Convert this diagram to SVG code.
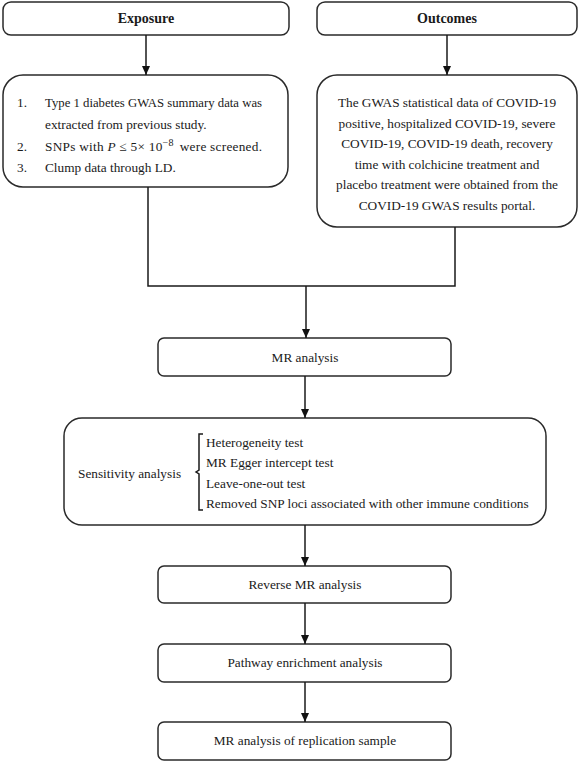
<svg xmlns="http://www.w3.org/2000/svg" width="581" height="762" viewBox="0 0 581 762">
<defs>
<marker id="ah" markerWidth="10" markerHeight="10" refX="9" refY="5" orient="auto" markerUnits="userSpaceOnUse">
<path d="M0,1 L9,5 L0,9 Z" fill="#111"/>
</marker>
<style>
.box{fill:#fff;stroke:#2a2a2a;stroke-width:1.5}
.t{font-family:"Liberation Serif","Times New Roman",serif;font-size:13.3px;fill:#1a1a1a}
.b{font-weight:bold;font-size:14px}
.c{text-anchor:middle}
.ln{fill:none;stroke:#1a1a1a;stroke-width:1.5}
</style>
</defs>
<rect width="581" height="762" fill="#fff"/>
<g id="exposure">
<rect class="box" x="3" y="2" width="286" height="33" rx="8"/>
<text class="t b c" x="146" y="23">Exposure</text>
</g>
<g id="outcomes">
<rect class="box" x="317" y="2" width="260" height="33" rx="8"/>
<text class="t b c" x="447" y="23">Outcomes</text>
</g>
<g id="exposure-detail">
<rect class="box" x="3" y="75" width="285" height="112" rx="20"/>
<text class="t" x="17" y="107">1.</text>
<text class="t" x="45" y="107" textLength="217" lengthAdjust="spacingAndGlyphs">Type 1 diabetes GWAS summary data was</text>
<text class="t" x="45" y="129">extracted from previous study.</text>
<text class="t" x="17" y="151">2.</text>
<text class="t" x="45" y="151" textLength="217" lengthAdjust="spacing">SNPs with <tspan font-style="italic">P</tspan> ≤ 5× 10<tspan dy="-5" font-size="10px">−8</tspan><tspan dy="5" dx="6">were screened.</tspan></text>
<text class="t" x="17" y="172">3.</text>
<text class="t" x="45" y="172">Clump data through LD.</text>
</g>
<g id="outcomes-detail">
<rect class="box" x="317" y="75" width="260" height="152" rx="20"/>
<text class="t c" x="447" y="107">The GWAS statistical data of COVID-19</text>
<text class="t c" x="447" y="127.5">positive, hospitalized COVID-19, severe</text>
<text class="t c" x="447" y="148">COVID-19, COVID-19 death, recovery</text>
<text class="t c" x="447" y="168.5">time with colchicine treatment and</text>
<text class="t c" x="447" y="189">placebo treatment were obtained from the</text>
<text class="t c" x="447" y="209.5">COVID-19 GWAS results portal.</text>
</g>
<g id="mr-analysis">
<rect class="box" x="158" y="338" width="293" height="38" rx="6"/>
<text class="t c" x="305" y="362">MR analysis</text>
</g>
<g id="sensitivity">
<rect class="box" x="64" y="418" width="482" height="107" rx="18"/>
<text class="t" x="78" y="478">Sensitivity analysis</text>
<path class="ln" stroke-width="1" d="M203,434 H199 V470 L196,472 L199,474 V510 H203"/>
<text class="t" x="206" y="447">Heterogeneity test</text>
<text class="t" x="206" y="467">MR Egger intercept test</text>
<text class="t" x="206" y="488">Leave-one-out test</text>
<text class="t" x="206" y="508">Removed SNP loci associated with other immune conditions</text>
</g>
<g id="reverse-mr">
<rect class="box" x="158" y="566" width="293" height="37" rx="6"/>
<text class="t c" x="305" y="589">Reverse MR analysis</text>
</g>
<g id="pathway">
<rect class="box" x="158" y="644" width="293" height="38" rx="6"/>
<text class="t c" x="305" y="667">Pathway enrichment analysis</text>
</g>
<g id="replication">
<rect class="box" x="158" y="722" width="293" height="38" rx="6"/>
<text class="t c" x="305" y="745">MR analysis of replication sample</text>
</g>
<g id="connectors">
<path class="ln" d="M146,35 V75" marker-end="url(#ah)"/>
<path class="ln" d="M447,35 V75" marker-end="url(#ah)"/>
<path class="ln" d="M148,187 V286 H455 V227"/>
<path class="ln" d="M306,286 V338" marker-end="url(#ah)"/>
<path class="ln" d="M305,376 V418" marker-end="url(#ah)"/>
<path class="ln" d="M305,525 V566" marker-end="url(#ah)"/>
<path class="ln" d="M305,603 V644" marker-end="url(#ah)"/>
<path class="ln" d="M305,682 V722" marker-end="url(#ah)"/>
</g>
</svg>
